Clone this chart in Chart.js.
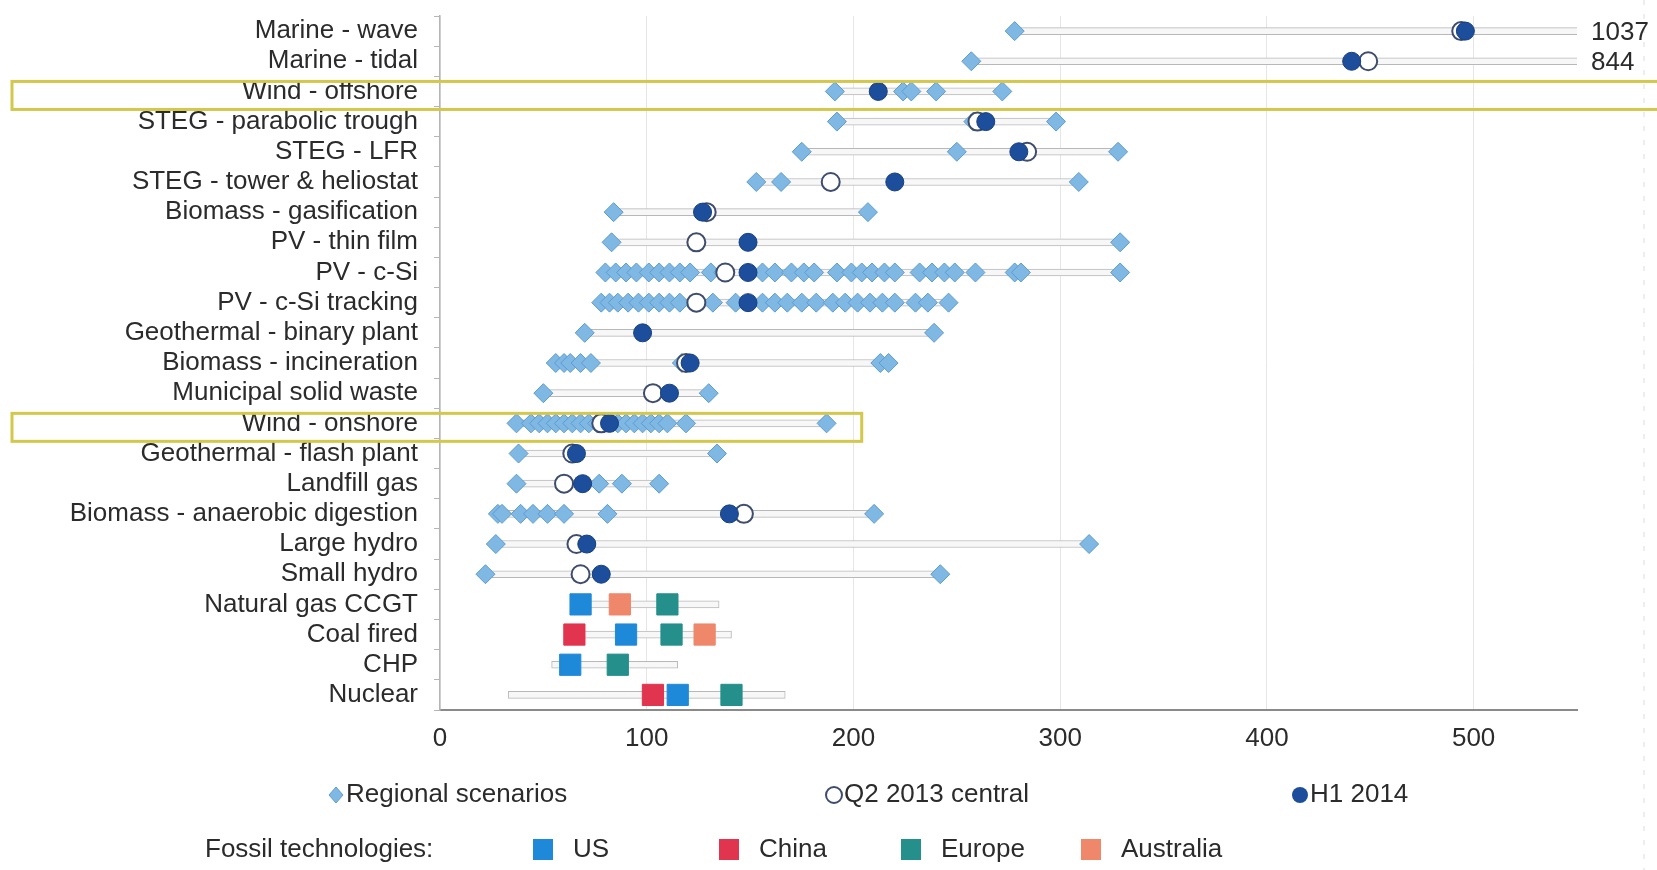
<!DOCTYPE html>
<html>
<head>
<meta charset="utf-8">
<script src="https://cdn.jsdelivr.net/npm/chart.js@4.4.1/dist/chart.umd.min.js"></script>
<style>
  html, body { margin: 0; padding: 0; background: #ffffff; }
  #wrap { width: 1657px; height: 870px; position: relative; }
</style>
</head>
<body>
<div id="wrap"><canvas id="lcoeChart"></canvas></div>
<script>
// Technologies, top to bottom
const technologies = [
    'Marine - wave', 'Marine - tidal', 'Wind - offshore', 'STEG - parabolic trough',
    'STEG - LFR', 'STEG - tower & heliostat', 'Biomass - gasification', 'PV - thin film',
    'PV - c-Si', 'PV - c-Si tracking', 'Geothermal - binary plant', 'Biomass - incineration',
    'Municipal solid waste', 'Wind - onshore', 'Geothermal - flash plant', 'Landfill gas',
    'Biomass - anaerobic digestion', 'Large hydro', 'Small hydro', 'Natural gas CCGT',
    'Coal fired', 'CHP', 'Nuclear'
];

// Regional scenario values (one list per technology)
const regionalScenarios = [
    [278, 1037],
    [257, 844],
    [191, 224, 228, 240, 272],
    [192, 258, 298],
    [175, 250, 328],
    [153, 165, 309],
    [84, 207],
    [83, 329],
    [80, 85, 90, 95, 101, 106, 111, 116, 121, 131, 137, 156, 162, 170, 176, 181, 192, 199, 204, 209, 215, 220, 232, 238, 244, 249, 259, 278, 281, 329],
    [78, 82, 86, 91, 96, 101, 106, 111, 116, 132, 143, 156, 162, 168, 175, 182, 190, 196, 202, 208, 214, 220, 230, 236, 246],
    [70, 239],
    [56, 60, 63, 68, 73, 117, 213, 217],
    [50, 130],
    [37, 44, 48, 52, 56, 60, 64, 68, 72, 76, 86, 90, 94, 98, 102, 106, 110, 119, 187],
    [38, 134],
    [37, 77, 88, 106],
    [28, 30, 39, 45, 52, 60, 81, 210],
    [27, 314],
    [22, 242],
    [], [], [], []
];

const q2_2013Central = [494, 449, null, 260, 284, 189, 129, 124, 138, 124, null, 119, 103, 78, 64, 60, 147, 66, 68, null, null, null, null];
const h1_2014 = [496, 441, 212, 264, 280, 220, 127, 149, 149, 149, 98, 121, 111, 82, 66, 69, 140, 71, 78, null, null, null, null];

// Fossil technologies
const fossilTechs = ['Natural gas CCGT', 'Coal fired', 'CHP', 'Nuclear'];
const fossilRange = [[66, 135], [64, 141], [54, 115], [33, 167]];
const fossilUS = [68, 90, 63, 115];
const fossilChina = [null, 65, null, 103];
const fossilEurope = [110, 112, 86, 141];
const fossilAustralia = [87, 128, null, null];

const xTicks = [0, 100, 200, 300, 400, 500];
const axisMax = 550;

const scenarioLegend = ['Regional scenarios', 'Q2 2013 central', 'H1 2014'];
const fossilLegendTitle = 'Fossil technologies:';
const fossilLegend = ['US', 'China', 'Europe', 'Australia'];

const FONT = "'Liberation Sans', Arial, sans-serif";
const TEXT = '#2b2b2b';
const COL = {
    diamond: '#80b8e4', diamondBorder: '#5c9bd1',
    h1: '#1d4e9b', h1Border: '#173f82',
    q2Border: '#3e4d6e',
    US: '#1f89d9', China: '#e0344f', Europe: '#248f8b', Australia: '#ef876a',
    highlight: '#d3c74c'
};

// Range bars: min/max of regional scenarios, or the fossil range
const rangeBars = technologies.map((t, i) => {
    const vals = regionalScenarios[i];
    if (vals.length) return [Math.min(...vals), Math.max(...vals)];
    return fossilRange[fossilTechs.indexOf(t)];
});

function pointsFrom(values, labels) {
    const pts = [];
    values.forEach((v, i) => { if (v !== null) pts.push({ x: v, y: labels[i] }); });
    return pts;
}

const regionalPoints = [];
regionalScenarios.forEach((vals, i) => vals.forEach(v => regionalPoints.push({ x: v, y: technologies[i] })));

function fossilDataset(label, values, color) {
    return {
        type: 'scatter', label: label, data: pointsFrom(values, fossilTechs),
        pointStyle: 'rect', pointRadius: 15, backgroundColor: color,
        borderColor: color, borderWidth: 1, order: 1
    };
}

// Custom drawing: off-scale labels, highlight boxes, legend
const extrasPlugin = {
    id: 'extras',
    afterDraw(chart) {
        const ctx = chart.ctx;
        const x = chart.scales.x, y = chart.scales.y;
        const area = chart.chartArea;
        ctx.save();

        // faint page edge on the right
        ctx.strokeStyle = '#dcdcdc';
        ctx.lineWidth = 1;
        ctx.setLineDash([5, 9]);
        ctx.beginPath();
        ctx.moveTo(1644, 0);
        ctx.lineTo(1644, 870);
        ctx.stroke();
        ctx.setLineDash([]);

        // values beyond the axis
        ctx.font = '26px ' + FONT;
        ctx.fillStyle = TEXT;
        ctx.textBaseline = 'middle';
        ctx.textAlign = 'left';
        regionalScenarios.forEach((vals, i) => {
            const top = vals.length ? Math.max(...vals) : 0;
            if (top > axisMax) ctx.fillText(String(top), area.right + 14, y.getPixelForValue(i) + 2);
        });

        // highlight boxes
        ctx.strokeStyle = COL.highlight;
        ctx.lineWidth = 3;
        const boxes = [
            { row: 'Wind - offshore', right: chart.width + 10 },
            { row: 'Wind - onshore', right: x.getPixelForValue(204) }
        ];
        boxes.forEach(b => {
            const py = y.getPixelForValue(technologies.indexOf(b.row));
            ctx.strokeRect(12, py - 10, b.right - 12, 28);
        });

        // legend row 1
        const ly1 = 795;
        const pos1 = [336, 834, 1300];
        ctx.textAlign = 'left';
        // diamond
        ctx.beginPath();
        ctx.moveTo(pos1[0] - 7, ly1); ctx.lineTo(pos1[0], ly1 - 8);
        ctx.lineTo(pos1[0] + 7, ly1); ctx.lineTo(pos1[0], ly1 + 8); ctx.closePath();
        ctx.fillStyle = COL.diamond; ctx.fill();
        ctx.strokeStyle = COL.diamondBorder; ctx.lineWidth = 1; ctx.stroke();
        // open circle
        ctx.beginPath(); ctx.arc(pos1[1], ly1, 8, 0, Math.PI * 2);
        ctx.fillStyle = '#ffffff'; ctx.fill();
        ctx.strokeStyle = COL.q2Border; ctx.lineWidth = 2; ctx.stroke();
        // filled circle
        ctx.beginPath(); ctx.arc(pos1[2], ly1, 8, 0, Math.PI * 2);
        ctx.fillStyle = COL.h1; ctx.fill();
        ctx.fillStyle = TEXT;
        scenarioLegend.forEach((txt, i) => ctx.fillText(txt, pos1[i] + 10, ly1));

        // legend row 2
        const ly2 = 850;
        ctx.fillText(fossilLegendTitle, 205, ly2);
        const sq = [543, 729, 911, 1091];
        fossilLegend.forEach((txt, i) => {
            ctx.fillStyle = COL[txt];
            ctx.fillRect(sq[i] - 10, ly2 - 11, 20, 21);
            ctx.fillStyle = TEXT;
            ctx.fillText(txt, sq[i] + 30, ly2);
        });

        ctx.restore();
    }
};

const ctx = document.getElementById('lcoeChart').getContext('2d');
new Chart(ctx, {
    type: 'bar',
    data: {
        labels: technologies,
        datasets: [
            {
                type: 'scatter', label: scenarioLegend[2], data: pointsFrom(h1_2014, technologies),
                pointStyle: 'circle', pointRadius: 9, backgroundColor: COL.h1,
                borderColor: COL.h1Border, borderWidth: 1, order: 2
            },
            {
                type: 'scatter', label: scenarioLegend[1], data: pointsFrom(q2_2013Central, technologies),
                pointStyle: 'circle', pointRadius: 9, backgroundColor: '#ffffff',
                borderColor: COL.q2Border, borderWidth: 2, order: 3
            },
            {
                type: 'scatter', label: scenarioLegend[0], data: regionalPoints,
                pointStyle: 'rectRot', pointRadius: 9.5, backgroundColor: COL.diamond,
                borderColor: COL.diamondBorder, borderWidth: 1, order: 4
            },
            fossilDataset('US', fossilUS, COL.US),
            fossilDataset('China', fossilChina, COL.China),
            fossilDataset('Europe', fossilEurope, COL.Europe),
            fossilDataset('Australia', fossilAustralia, COL.Australia),
            {
                type: 'bar', label: 'range', data: rangeBars, indexAxis: 'y',
                backgroundColor: '#f7f7f7', borderColor: '#b8b8b8', borderWidth: 1,
                borderSkipped: false, barThickness: 7, order: 5
            }
        ]
    },
    options: {
        indexAxis: 'y',
        responsive: true,
        maintainAspectRatio: false,
        animation: false,
        events: [],
        layout: { padding: { top: 16, right: 80, bottom: 0, left: 0 } },
        plugins: {
            legend: { display: false },
            tooltip: { enabled: false }
        },
        scales: {
            x: {
                type: 'linear', min: 0, max: axisMax,
                afterFit: scale => { scale.height = 160; scale.paddingLeft = 0; scale.paddingRight = 0; },
                afterBuildTicks: scale => { scale.ticks = xTicks.map(v => ({ value: v })); },
                ticks: { color: TEXT, font: { family: FONT, size: 26 }, padding: 13 },
                grid: { color: '#e6e6e6', lineWidth: 1, drawTicks: false },
                border: { display: true, color: '#8a8a8a', width: 2 }
            },
            y: {
                type: 'category', labels: technologies, offset: true,
                afterFit: scale => { scale.width = 440; scale.paddingTop = 0; scale.paddingBottom = 0; },
                ticks: { color: TEXT, font: { family: FONT, size: 26 }, padding: 16, autoSkip: false },
                grid: { drawOnChartArea: false, drawTicks: true, tickLength: 6, color: '#b5b5b5', offset: true },
                border: { display: true, color: '#b5b5b5', width: 1.5 }
            }
        }
    },
    plugins: [extrasPlugin]
});
</script>
</body>
</html>
